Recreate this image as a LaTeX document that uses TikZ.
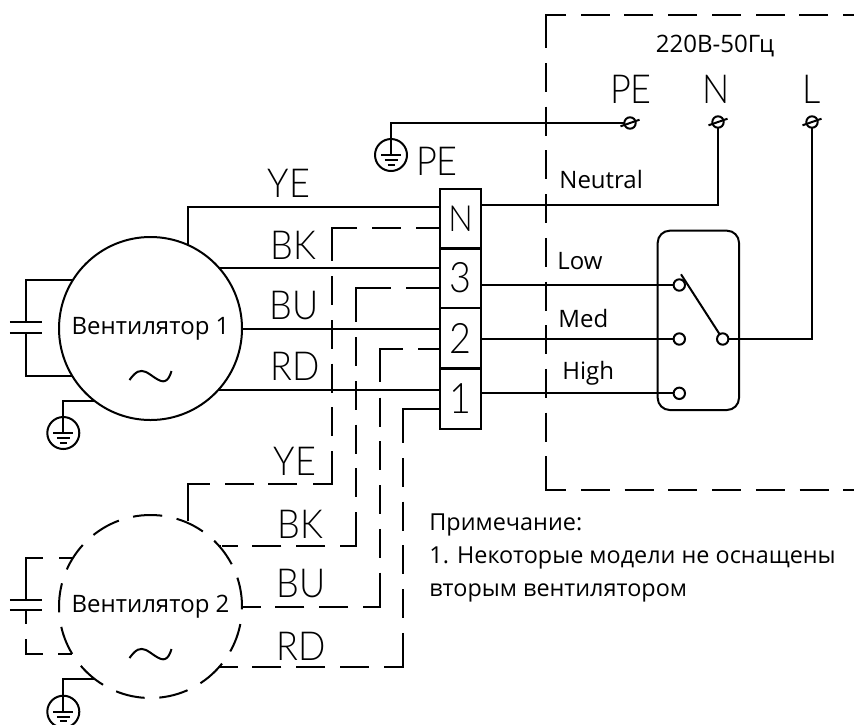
\documentclass[tikz,border=0pt]{standalone}
\usepackage{fontspec}
\setmainfont{Open Sans}
\newfontfamily\thinfont[FakeStretch=0.9]{Lato Light}
\usetikzlibrary{calc}
\def\dd{on 14.5pt off 7.35pt }
\def\earth(#1){\draw[wire] (#1.north) -- (#1.center);
	\draw[wire] ($(#1)+(-10,0)$) -- ($(#1)+(10,0)$);
	\draw[wire] ($(#1)+(-6.5,5)$) -- ($(#1)+(6.5,5)$);
	\draw[wire] ($(#1)+(-3.5,9.5)$) -- ($(#1)+(3.5,9.5)$);}
\tikzset{
	wire/.style={line width=1pt},
	fan/.style={draw, wire, circle, minimum size=91.5pt, inner sep=0pt, outer sep=0pt, font=\fontsize{12}{16}\selectfont},
	fandash/.style={dash pattern=on 14.65pt off 7.35pt},
	block/.style={draw, wire, minimum width=20.5pt, minimum height=30pt, inner sep=0pt, outer sep=0pt, font=\thinfont\fontsize{21}{22}\selectfont},
	ring/.style={draw, wire, circle, minimum size=5.7pt, inner sep=0pt, outer sep=0pt, fill=white},
	gnd/.style={draw, wire, circle, minimum size=16pt, inner sep=0pt, outer sep=0pt},
	big/.style={inner sep=0pt, font=\thinfont\fontsize{20}{22}\selectfont},
	small/.style={inner sep=0pt, font=\fontsize{12}{16}\selectfont},
	note/.style={inner sep=0pt, anchor=base west, font=\fontsize{11.7}{16}\selectfont},
	wireA/.style={dash pattern/.expanded={on 12.15pt off 7.5pt \dd on 29.3pt off 7.5pt \dd\dd\dd\dd on 26.3pt off 7.7pt \dd\dd on 29.5pt }},
	wireB/.style={dash pattern/.expanded={on 17.15pt off 7.5pt on 34.35pt off 7.5pt \dd\dd\dd\dd on 25.15pt off 7.6pt \dd\dd on 8pt off 1pt }},
	wireC/.style={dash pattern/.expanded={on 11.15pt off 7.5pt on 28pt off 7.7pt \dd\dd\dd\dd on 25.9pt off 7.2pt \dd\dd on 9pt off 1pt }},
	wireD/.style={dash pattern/.expanded={on 35.5pt off 7.35pt \dd\dd\dd\dd on 26.65pt off 7.5pt \dd\dd\dd on 9pt off 1pt }},
	frame/.style={dash pattern/.expanded={on 5.55pt off 7.35pt \dd\dd\dd\dd\dd\dd on 26.85pt off 7.45pt \dd\dd\dd\dd\dd\dd\dd\dd\dd on 27pt off 7.5pt \dd\dd\dd\dd\dd\dd on 20pt off 1pt }},
}
\begin{document}
\begin{tikzpicture}[x=0.5pt, y=-0.5pt]
	\useasboundingbox (0, 0) rectangle (854, 724);

	% fans
	\node[fan] (fan1) at (150.5, 328.5) {Вентилятор 1};
	\node[fan, fandash] (fan2) at (150.5, 606.5) {Вентилятор 2};
	\foreach \m in {fan1, fan2}
		\draw[wire, shift={(\m.center)}] (-21, 51.5) .. controls (-14.5, 42.5) and (-10.5, 41) .. (-4.5, 43.5) .. controls (1.5, 46.5) and (9.5, 54.5) .. (14.5, 52.5) .. controls (17.5, 51.5) and (19.5, 47.5) .. (21, 42.5);

	% terminal block
	\node[block] (termN) at (460.5, 218.5) {\fontsize{18}{20}\selectfont N};
	\node[block] (term3) at (460.5, 277.7) {3};
	\node[block] (term2) at (460.5, 338) {2};
	\node[block] (term1) at (460.5, 398.7) {1};

	% supply
	\draw[wire, frame] (854, 14.7) -- (545.7, 14.7) -- (545.7, 490) -- (854, 490);
	\node[small] (supply) at (715, 46) {220В-50Гц};
	\node[ring] (ringpe) at (630, 123) {};
	\node[ring] (ringn) at (718, 122) {};
	\node[ring] (ringl) at (812, 122) {};
	\foreach \t in {ringpe, ringn, ringl}
		\draw[wire] ($(\t)+(-9.5,3.3)$) -- ($(\t)+(9.5,-3.3)$);
	\node[big] (lblpe) at (631, 89) {PE};
	\node[big] (lbln) at (716.5, 89) {N};
	\node[big] (lbll) at (811.5, 89) {L};

	% switch
	\node[draw, wire, rounded corners=6pt, minimum width=40.65pt, minimum height=89.65pt, inner sep=0pt, outer sep=0pt] (switch) at (698.35, 320.35) {};
	\node[ring] (low) at (679.3, 285) {};
	\node[ring] (med) at (679.3, 339) {};
	\node[ring] (high) at (679.3, 393.3) {};
	\node[ring] (pole) at (722.7, 339) {};
	\coordinate (arm) at (681, 274.3);
	\draw[wire] (arm) -- (pole);
	\draw[wire] (low.west) -- (low.west -| term3.east);
	\draw[wire] (med.west) -- (med.west -| term2.east);
	\draw[wire] (high.west) -- (high.west -| term1.east);
	\draw[wire] (pole.east) -| (ringl.south);
	\coordinate (neutral) at (481, 205);
	\draw[wire] (neutral) -| (ringn.south);
	\node[small, anchor=west] (lblneutral) at (559, 179) {Neutral};
	\node[small, anchor=west] (lbllow) at (557, 261) {Low};
	\node[small, anchor=west] (lblmed) at (558, 318) {Med};
	\node[small, anchor=west] (lblhigh) at (562, 373) {High};

	% earth
	\node[gnd] (gndpe) at (391, 155) {};
	\node[gnd] (gnd1) at (63.3, 433) {};
	\node[gnd] (gnd2) at (63.3, 711.7) {};
	\earth(gndpe)
	\earth(gnd1)
	\earth(gnd2)
	\draw[wire] (gndpe.north) |- (ringpe.west);
	\draw[wire] (fan1.232.8) -| (gnd1.north);
	\draw[wire] (fan2.232.8) -| (gnd2.north);
	\node[big] (lblpe2) at (437, 161) {PE};

	% solid wires
	\coordinate (ye1) at (440, 206.7);
	\draw[wire] (ye1) -| (fan1.66.6);
	\draw[wire] (fan1.41) -- (fan1.41 -| term3.west);
	\draw[wire] (fan1.east) -- (fan1.east -| term2.west);
	\draw[wire] (fan1.-42) -- (fan1.-42 -| term1.west);
	\node[big] (lblye1) at (289, 183) {YE};
	\node[big] (lblbk1) at (293.5, 245) {BK};
	\node[big] (lblbu1) at (294, 305.5) {BU};
	\node[big] (lblrd1) at (295, 366.5) {RD};

	% dashed wires
	\coordinate (ye2) at (440, 227.7);
	\coordinate (ye2a) at (332, 227.7);
	\coordinate (ye2b) at (332, 484.3);
	\draw[wire, wireA] (ye2) -- (ye2a) -- (ye2b) -| (fan2.66.6);
	\coordinate (bk2) at (440, 288);
	\coordinate (bk2a) at (356.3, 288);
	\draw[wire, wireB] (bk2) -- (bk2a) |- (fan2.41.6);
	\coordinate (bu2) at (440, 348.7);
	\coordinate (bu2a) at (380.3, 348.7);
	\draw[wire, wireC] (bu2) -- (bu2a) |- (fan2.east);
	\coordinate (rd2) at (440, 409);
	\coordinate (rd2a) at (403.3, 409);
	\draw[wire, wireD] (rd2) -- (rd2a) |- (fan2.-41.6);
	\node[big] (lblye2) at (295, 461.7) {YE};
	\node[big] (lblbk2) at (300.5, 524.5) {BK};
	\node[big] (lblbu2) at (301, 583.5) {BU};
	\node[big] (lblrd2) at (301.5, 646) {RD};

	% capacitors
	\node[inner sep=0pt, minimum width=15.7pt, minimum height=5pt] (cap1) at (26, 327.3) {};
	\node[inner sep=0pt, minimum width=15.7pt, minimum height=5pt] (cap2) at (26, 605) {};
	\foreach \c in {cap1, cap2} {
		\draw[wire] (\c.north west) -- (\c.north east);
		\draw[wire] (\c.south west) -- (\c.south east);
	}
	\draw[wire] (fan1.148.8) -| (cap1.north);
	\draw[wire] (fan1.211.2) -| (cap1.south);
	\draw[wire, dash pattern=on 7.2pt off 7.8pt on 28.7pt off 1pt] (fan2.148.8) -| (cap2.north);
	\draw[wire, dash pattern=on 7pt off 7.5pt on 15.65pt off 7.5pt on 7.7pt off 1pt] (cap2.south) |- (fan2.211.2);

	% note
	\node[note] (note1) at (429, 530) {Примечание:};
	\node[note] (note2) at (429, 563) {1. Некоторые модели не оснащены};
	\node[note] (note3) at (429, 596) {вторым вентилятором};
\end{tikzpicture}
\end{document}
